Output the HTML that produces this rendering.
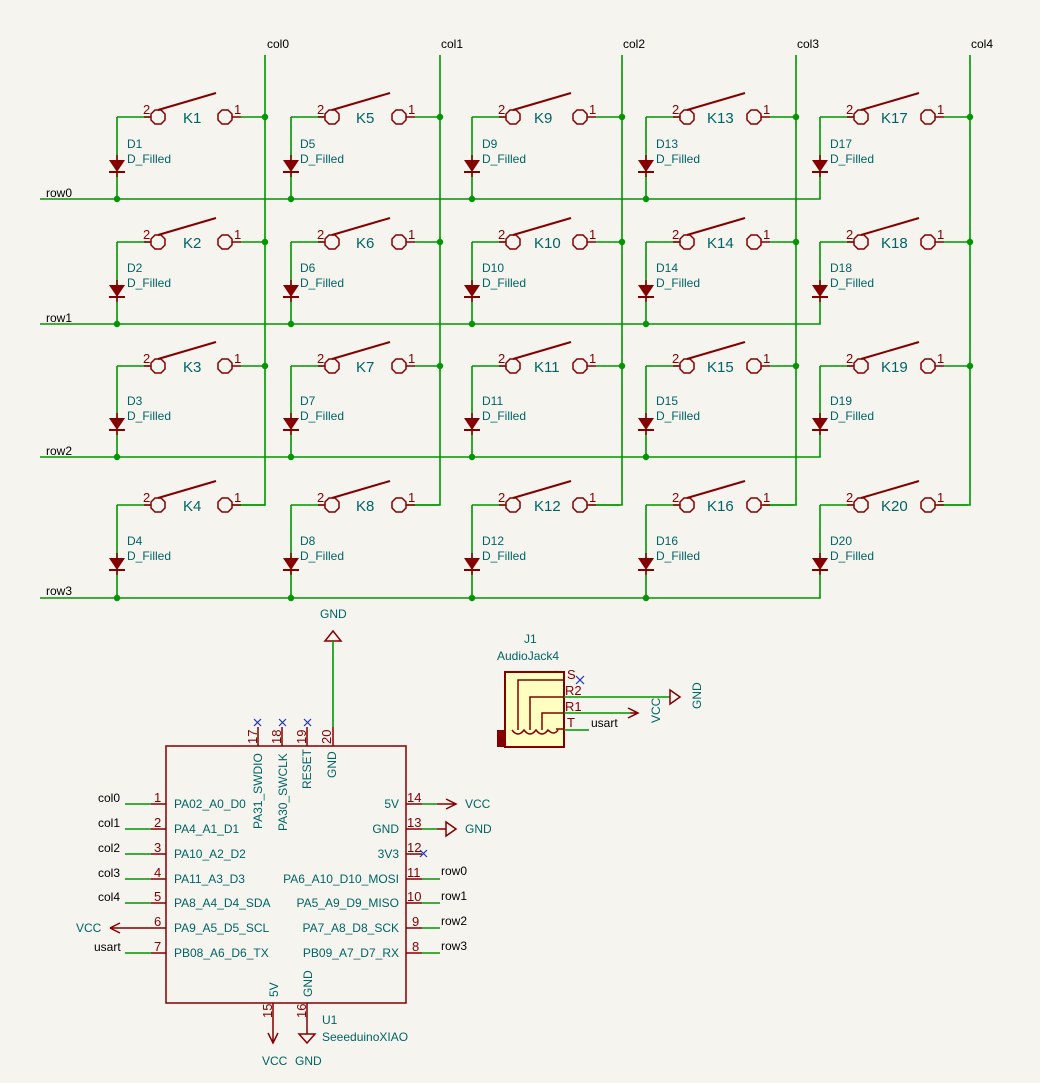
<!DOCTYPE html>
<html><head><meta charset="utf-8"><style>
html,body{margin:0;padding:0;background:#f5f4ef;}
svg{display:block;}
text{font-family:"Liberation Sans",sans-serif;}
.t{fill:#006464;font-size:12px;}
.k{fill:#006464;font-size:15px;}
.n{fill:#000;font-size:12px;}
.r{fill:#840000;font-size:13px;}
.g{stroke:#009600;stroke-width:1.6;fill:none;}
.rd{stroke:#840000;stroke-width:1.5;fill:none;}
</style></head><body>
<svg width="1040" height="1083" viewBox="0 0 1040 1083" xmlns="http://www.w3.org/2000/svg">
<defs>
<g id="sw">
<path class="g" d="M0,0H33"/>
<polygon class="rd" points="38,-7 44,-7 48,-3 48,3 44,7 38,7 34,3 34,-3"/>
<path d="M41,-7L99,-24" stroke="#840000" stroke-width="2"/>
<polygon class="rd" points="105,-7 111,-7 115,-3 115,3 111,7 105,7 101,3 101,-3"/>
<path class="rd" d="M115,0H124M27,0H34"/>
<path class="g" d="M124,0H148"/>
<text x="26" y="-3" class="r">2</text>
<text x="117" y="-3" class="r">1</text>
</g>
<g id="di">
<polygon points="-8,-6 8,-6 0,6" fill="#840000"/>
<path d="M-8,6H8" stroke="#840000" stroke-width="2"/>
<path d="M0,-11V-6M0,6V11" stroke="#840000" stroke-width="1.5"/>
</g>
<circle id="dot" r="3.2" fill="#009600"/>
</defs>

<!-- column wires -->
<path class="g" d="M265,55V505H232M440,55V505H407M622,55V505H589M796,55V505H763M970,55V505H937"/>
<text x="267" y="48" class="n">col0</text>
<text x="441" y="48" class="n">col1</text>
<text x="623" y="48" class="n">col2</text>
<text x="797" y="48" class="n">col3</text>
<text x="971" y="48" class="n">col4</text>

<!-- row wires -->
<path class="g" d="M40,199H820V117M40,324H820V242M40,457H820V366M40,598H820V505"/>
<path class="g" d="M117,117V199M291,117V199M472,117V199M646,117V199M117,242V324M291,242V324M472,242V324M646,242V324M117,366V457M291,366V457M472,366V457M646,366V457M117,505V598M291,505V598M472,505V598M646,505V598"/>
<text x="46" y="197" class="n">row0</text>
<text x="46" y="322" class="n">row1</text>
<text x="46" y="455" class="n">row2</text>
<text x="46" y="595" class="n">row3</text>

<!-- switches -->
<use href="#sw" x="117" y="117"/><use href="#sw" x="291" y="117"/><use href="#sw" x="472" y="117"/><use href="#sw" x="646" y="117"/><use href="#sw" x="820" y="117"/>
<use href="#sw" x="117" y="242"/><use href="#sw" x="291" y="242"/><use href="#sw" x="472" y="242"/><use href="#sw" x="646" y="242"/><use href="#sw" x="820" y="242"/>
<use href="#sw" x="117" y="366"/><use href="#sw" x="291" y="366"/><use href="#sw" x="472" y="366"/><use href="#sw" x="646" y="366"/><use href="#sw" x="820" y="366"/>
<use href="#sw" x="117" y="505"/><use href="#sw" x="291" y="505"/><use href="#sw" x="472" y="505"/><use href="#sw" x="646" y="505"/><use href="#sw" x="820" y="505"/>

<!-- diodes -->
<g>
<use href="#di" x="117" y="166"/><use href="#di" x="291" y="166"/><use href="#di" x="472" y="166"/><use href="#di" x="646" y="166"/><use href="#di" x="820" y="166"/>
<use href="#di" x="117" y="291"/><use href="#di" x="291" y="291"/><use href="#di" x="472" y="291"/><use href="#di" x="646" y="291"/><use href="#di" x="820" y="291"/>
<use href="#di" x="117" y="424"/><use href="#di" x="291" y="424"/><use href="#di" x="472" y="424"/><use href="#di" x="646" y="424"/><use href="#di" x="820" y="424"/>
<use href="#di" x="117" y="564"/><use href="#di" x="291" y="564"/><use href="#di" x="472" y="564"/><use href="#di" x="646" y="564"/><use href="#di" x="820" y="564"/>
</g>

<!-- junctions -->
<g>
<use href="#dot" x="265" y="117"/><use href="#dot" x="440" y="117"/><use href="#dot" x="622" y="117"/><use href="#dot" x="796" y="117"/><use href="#dot" x="970" y="117"/>
<use href="#dot" x="265" y="242"/><use href="#dot" x="440" y="242"/><use href="#dot" x="622" y="242"/><use href="#dot" x="796" y="242"/><use href="#dot" x="970" y="242"/>
<use href="#dot" x="265" y="366"/><use href="#dot" x="440" y="366"/><use href="#dot" x="622" y="366"/><use href="#dot" x="796" y="366"/><use href="#dot" x="970" y="366"/>
<use href="#dot" x="117" y="199"/><use href="#dot" x="291" y="199"/><use href="#dot" x="472" y="199"/><use href="#dot" x="646" y="199"/>
<use href="#dot" x="117" y="324"/><use href="#dot" x="291" y="324"/><use href="#dot" x="472" y="324"/><use href="#dot" x="646" y="324"/>
<use href="#dot" x="117" y="457"/><use href="#dot" x="291" y="457"/><use href="#dot" x="472" y="457"/><use href="#dot" x="646" y="457"/>
<use href="#dot" x="117" y="598"/><use href="#dot" x="291" y="598"/><use href="#dot" x="472" y="598"/><use href="#dot" x="646" y="598"/>
</g>

<!-- labels -->
<g class="k">
<text x="183" y="123">K1</text><text x="356" y="123">K5</text><text x="534" y="123">K9</text><text x="707" y="123">K13</text><text x="881" y="123">K17</text>
<text x="183" y="248">K2</text><text x="356" y="248">K6</text><text x="534" y="248">K10</text><text x="707" y="248">K14</text><text x="881" y="248">K18</text>
<text x="183" y="372">K3</text><text x="356" y="372">K7</text><text x="534" y="372">K11</text><text x="707" y="372">K15</text><text x="881" y="372">K19</text>
<text x="183" y="511">K4</text><text x="356" y="511">K8</text><text x="534" y="511">K12</text><text x="707" y="511">K16</text><text x="881" y="511">K20</text>
</g>
<g class="t">
<text x="127" y="148">D1</text><text x="127" y="163">D_Filled</text>
<text x="300" y="148">D5</text><text x="300" y="163">D_Filled</text>
<text x="482" y="148">D9</text><text x="482" y="163">D_Filled</text>
<text x="656" y="148">D13</text><text x="656" y="163">D_Filled</text>
<text x="830" y="148">D17</text><text x="830" y="163">D_Filled</text>
<text x="127" y="272">D2</text><text x="127" y="287">D_Filled</text>
<text x="300" y="272">D6</text><text x="300" y="287">D_Filled</text>
<text x="482" y="272">D10</text><text x="482" y="287">D_Filled</text>
<text x="656" y="272">D14</text><text x="656" y="287">D_Filled</text>
<text x="830" y="272">D18</text><text x="830" y="287">D_Filled</text>
<text x="127" y="405">D3</text><text x="127" y="420">D_Filled</text>
<text x="300" y="405">D7</text><text x="300" y="420">D_Filled</text>
<text x="482" y="405">D11</text><text x="482" y="420">D_Filled</text>
<text x="656" y="405">D15</text><text x="656" y="420">D_Filled</text>
<text x="830" y="405">D19</text><text x="830" y="420">D_Filled</text>
<text x="127" y="545">D4</text><text x="127" y="560">D_Filled</text>
<text x="300" y="545">D8</text><text x="300" y="560">D_Filled</text>
<text x="482" y="545">D12</text><text x="482" y="560">D_Filled</text>
<text x="656" y="545">D16</text><text x="656" y="560">D_Filled</text>
<text x="830" y="545">D20</text><text x="830" y="560">D_Filled</text>
</g>

<!-- GND top -->
<text x="320" y="618" class="t">GND</text>
<polygon class="rd" points="325,641 341,641 333,631"/>
<path class="g" d="M333,641V727"/>
<path class="rd" d="M333,727V746"/>

<!-- U1 box -->
<rect x="166" y="746" width="240" height="257" class="rd"/>
<path class="rd" d="M258,727V746M282,727V746M307,727V746"/>
<g stroke="#2030c0" stroke-width="1.2"><path d="M254,726l7,-7m0,7l-7,-7M279,726l7,-7m0,7l-7,-7M304,726l7,-7m0,7l-7,-7"/></g>
<g class="r" font-size="12">
<text transform="translate(257,744) rotate(-90)">17</text>
<text transform="translate(281,744) rotate(-90)">18</text>
<text transform="translate(306,744) rotate(-90)">19</text>
<text transform="translate(331,744) rotate(-90)">20</text>
</g>
<g class="t">
<text transform="translate(262,829) rotate(-90)">PA31_SWDIO</text>
<text transform="translate(287,831) rotate(-90)">PA30_SWCLK</text>
<text transform="translate(311,789) rotate(-90)">RESET</text>
<text transform="translate(336,778) rotate(-90)">GND</text>
</g>
<path class="g" d="M125,804H151M125,829H151M125,854H151M125,879H151M125,903H151M125,953H151"/>
<path class="rd" d="M151,804H166M151,829H166M151,854H166M151,879H166M151,903H166M151,928H166M151,953H166M110,928H151M110,928l10,-5M110,928l10,5"/>
<g class="r" font-size="12">
<text x="154" y="802">1</text><text x="154" y="827">2</text><text x="154" y="852">3</text><text x="154" y="877">4</text><text x="154" y="901">5</text><text x="154" y="926">6</text><text x="154" y="951">7</text>
</g>
<g class="n">
<text x="98" y="802">col0</text><text x="98" y="827">col1</text><text x="98" y="852">col2</text><text x="98" y="877">col3</text><text x="98" y="901">col4</text><text x="94" y="951">usart</text>
</g>
<text x="76" y="932" class="t">VCC</text>
<g class="t">
<text x="174" y="808">PA02_A0_D0</text><text x="174" y="833">PA4_A1_D1</text><text x="174" y="858">PA10_A2_D2</text><text x="174" y="883">PA11_A3_D3</text><text x="174" y="907">PA8_A4_D4_SDA</text><text x="174" y="932">PA9_A5_D5_SCL</text><text x="174" y="957">PB08_A6_D6_TX</text>
</g>
<path class="rd" d="M406,804H422M406,829H422M406,854H422M406,879H422M406,903H422M406,928H422M406,953H422"/>
<path class="g" d="M422,804H437M422,829H437M422,879H440M422,903H440M422,928H440M422,953H440"/>
<path class="rd" d="M437,804H456M446,799l10,5l-10,5M437,829H446M446,822V836L456,829Z"/>
<path d="M420,850l7,7m0,-7l-7,7" stroke="#2030c0" stroke-width="1.2"/>
<g class="r" font-size="12">
<text x="407" y="802">14</text><text x="407" y="827">13</text><text x="407" y="852">12</text><text x="407" y="877">11</text><text x="407" y="901">10</text><text x="412" y="926">9</text><text x="412" y="951">8</text>
</g>
<text x="465" y="808" class="t">VCC</text><text x="465" y="833" class="t">GND</text>
<g class="n"><text x="441" y="875">row0</text><text x="441" y="900">row1</text><text x="441" y="925">row2</text><text x="441" y="950">row3</text></g>
<g class="t" text-anchor="end">
<text x="399" y="808">5V</text><text x="399" y="833">GND</text><text x="399" y="858">3V3</text><text x="399" y="883">PA6_A10_D10_MOSI</text><text x="399" y="907">PA5_A9_D9_MISO</text><text x="399" y="932">PA7_A8_D8_SCK</text><text x="399" y="957">PB09_A7_D7_RX</text>
</g>
<path class="rd" d="M273,1003V1020M307,1003V1020M273,1020V1043M268,1033l5,10l5,-10M307,1020V1034M299,1034H315L307,1043Z"/>
<g class="t">
<text transform="translate(278,997) rotate(-90)">5V</text>
<text transform="translate(312,997) rotate(-90)">GND</text>
</g>
<g class="r" font-size="12">
<text transform="translate(272,1018) rotate(-90)">15</text>
<text transform="translate(306,1018) rotate(-90)">16</text>
</g>
<text x="322" y="1024" class="t">U1</text>
<text x="322" y="1041" class="t">SeeeduinoXIAO</text>
<text x="262" y="1065" class="t">VCC</text><text x="295" y="1065" class="t">GND</text>

<!-- J1 -->
<text x="524" y="643" class="t">J1</text>
<text x="497" y="660" class="t">AudioJack4</text>
<rect x="505" y="672" width="59" height="75" fill="#ffffc2" stroke="#840000" stroke-width="2"/>
<rect x="497" y="730" width="9" height="17" fill="#840000"/>
<g class="rd" stroke-width="2">
<path d="M564,680H518V730M564,697H530V730M564,713H542V730M564,729H556"/>
<path d="M512,730q6,8 12,0q6,8 12,0q6,8 12,0q6,6 10,0"/>
</g>
<path class="g" d="M564,697H670M564,713H630M564,730H589"/>
<path class="rd" d="M670,690V704L680,697Z M630,713H638M628,708l10,5l-10,5"/>
<path d="M576,676l8,8m0,-8l-8,8" stroke="#2030c0" stroke-width="1.2"/>
<g class="r" font-size="12"><text x="567" y="679">S</text><text x="565" y="695">R2</text><text x="565" y="711">R1</text><text x="567" y="727">T</text></g>
<text x="591" y="727" class="n">usart</text>
<text transform="translate(660,723) rotate(-90)" class="t">VCC</text>
<text transform="translate(701,709) rotate(-90)" class="t">GND</text>
</svg>
</body></html>
